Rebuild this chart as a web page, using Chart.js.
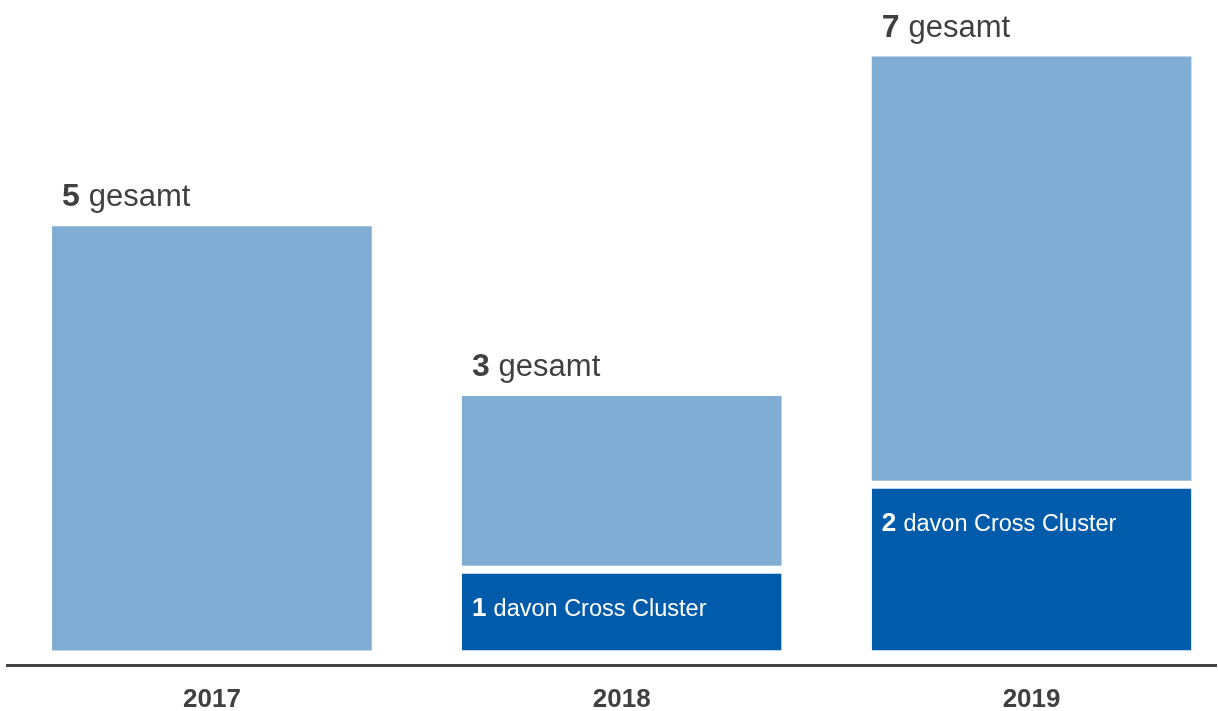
<!DOCTYPE html>
<html>
<head>
<meta charset="utf-8">
<script src="https://cdn.jsdelivr.net/npm/chart.js@4/dist/chart.umd.min.js"></script>
<style>
  html, body { margin: 0; padding: 0; background: #ffffff; overflow: hidden; }
  #wrap { width: 1218px; height: 711px; }
</style>
</head>
<body>
<div id="wrap"><canvas id="projectsChart"></canvas></div>
<script>
// Chart data
const years = ['2017', '2018', '2019'];
const crossCluster = [0, 1, 2];
const otherProjects = [5, 2, 5];
const totalLabel = 'gesamt';
const crossLabel = 'davon Cross Cluster';

const colors = {
  light: '#80add4',
  dark: '#005baa',
  text: '#404040',
  axis: '#444444'
};

// Labels drawn next to the bars ("5 gesamt", "1 davon Cross Cluster")
const barLabels = {
  id: 'barLabels',
  afterDatasetsDraw(chart) {
    const ctx = chart.ctx;
    const darkMeta = chart.getDatasetMeta(0);
    const lightMeta = chart.getDatasetMeta(1);
    ctx.save();
    ctx.textBaseline = 'alphabetic';
    ctx.textAlign = 'left';

    years.forEach((year, i) => {
      const top = lightMeta.data[i];
      const left = top.x - top.width / 2 + 10;
      const total = String(crossCluster[i] + otherProjects[i]);
      ctx.fillStyle = colors.text;
      ctx.font = 'bold 32px "Liberation Sans", Arial, sans-serif';
      ctx.fillText(total, left, top.y - 20);
      const w = ctx.measureText(total + ' ').width;
      ctx.font = '31px "Liberation Sans", Arial, sans-serif';
      ctx.fillText(totalLabel, left + w, top.y - 20);

      if (crossCluster[i] > 0) {
        const bar = darkMeta.data[i];
        const y = bar.y + 8 + 42;
        ctx.fillStyle = '#ffffff';
        ctx.font = 'bold 26px "Liberation Sans", Arial, sans-serif';
        const n = String(crossCluster[i]);
        ctx.fillText(n, left, y);
        const nw = ctx.measureText(n + ' ').width;
        ctx.font = '23.5px "Liberation Sans", Arial, sans-serif';
        ctx.fillText(crossLabel, left + nw, y);
      }
    });
    ctx.restore();
  }
};

const ctx = document.getElementById('projectsChart');
new Chart(ctx, {
  type: 'bar',
  data: {
    datasets: [
      {
        label: crossLabel,
        data: crossCluster.map((v, i) => ({ x: i, y: v })),
        backgroundColor: colors.dark,
        borderColor: '#ffffff',
        borderWidth: { top: 8, left: 0, right: 0, bottom: 0 },
        borderSkipped: false,
        barPercentage: 0.78,
        categoryPercentage: 1
      },
      {
        label: totalLabel,
        data: otherProjects.map((v, i) => ({ x: i, y: v })),
        backgroundColor: colors.light,
        borderWidth: 0,
        barPercentage: 0.78,
        categoryPercentage: 1
      }
    ]
  },
  options: {
    responsive: true,
    maintainAspectRatio: false,
    animation: false,
    layout: {
      padding: { left: 7, right: 2, top: 4, bottom: -14 }
    },
    scales: {
      x: {
        type: 'linear',
        stacked: true,
        offset: false,
        min: -0.5,
        max: 2.45,
        afterBuildTicks: (scale) => {
          scale.ticks = years.map((y, i) => ({ value: i }));
        },
        ticks: {
          callback: (value) => years[value],
          color: colors.text,
          font: { family: '"Liberation Sans", Arial, sans-serif', size: 26, weight: 'bold' },
          padding: 10,
          maxRotation: 0
        },
        grid: { display: false },
        border: { display: true, color: colors.axis, width: 3 }
      },
      y: {
        stacked: true,
        display: false,
        min: -0.18,
        max: 7.62
      }
    },
    plugins: {
      legend: { display: false },
      tooltip: { enabled: false }
    }
  },
  plugins: [barLabels]
});
</script>
</body>
</html>
